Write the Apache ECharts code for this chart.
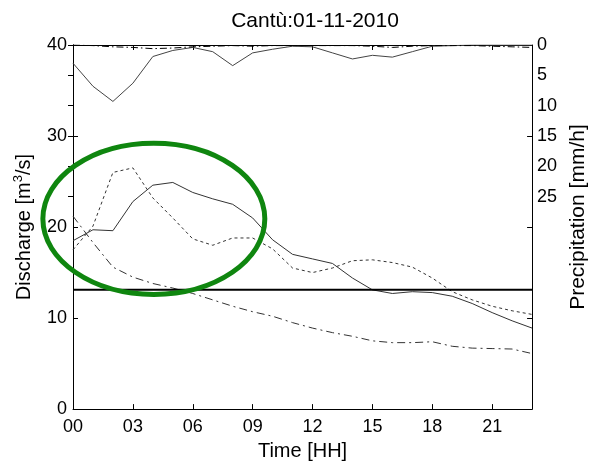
<!DOCTYPE html>
<html>
<head>
<meta charset="utf-8">
<script src="https://cdn.jsdelivr.net/npm/echarts@6/dist/echarts.min.js"></script>
<style>html,body{margin:0;padding:0;background:#fff;}#c{width:597px;height:466px;}</style>
</head>
<body>
<div id="c"></div>
<script>
// ---- data ----
const hours = [0,1,2,3,4,5,6,7,8,9,10,11,12,13,14,15,16,17,18,19,20,21,22,23];
const precipObserved = [3.0,6.8,9.3,6.3,1.9,0.9,0.4,1.1,3.4,1.3,0.7,0.2,0.3,1.3,2.3,1.7,2.0,1.1,0.2,0.1,0.0,0.0,0.0,0.0];
const precipForecast = [0.0,0.1,0.3,0.4,0.6,0.5,0.3,0.2,0.1,0.2,0.1,0.1,0.1,0.1,0.1,0.2,0.4,0.2,0.1,0.1,0.1,0.2,0.3,0.4];
const dischargeObserved = [18.5,19.7,19.6,22.8,24.6,24.9,23.8,23.1,22.5,21.0,18.6,17.0,16.5,16.0,14.4,13.1,12.7,12.9,12.8,12.4,11.6,10.6,9.7,8.9];
const dischargeSimA = [17.5,20.1,26.0,26.5,23.2,21.0,18.7,18.0,18.8,18.8,17.6,15.5,15.0,15.5,16.3,16.4,16.1,15.6,14.4,12.9,12.0,11.3,10.8,10.4];
const dischargeSimB = [21.2,18.3,15.6,14.5,13.8,13.3,12.7,12.0,11.3,10.7,10.2,9.5,8.9,8.4,8.0,7.5,7.3,7.3,7.4,6.9,6.7,6.65,6.6,6.1];
const threshold = 13.1;
const xTicks = ['00','03','06','09','12','15','18','21'];
const leftTicks = [0,10,20,30,40];
const rightTicks = [0,5,10,15,20,25];
// annotation ellipse in data units (hours, m3/s)
const ellipseCenter = [4.05, 20.9];
const ellipseRadius = [5.56, 8.3];

const pair = arr => hours.map((h,i)=>[h, arr[i]]);
const FONT = 'Liberation Sans, Arial, sans-serif';

const chart = echarts.init(document.getElementById('c'), null, {renderer:'canvas'});
const axisCommon = {
  axisLine:{show:true, lineStyle:{color:'#000', width:1}},
  axisTick:{show:true, inside:true, length:5, lineStyle:{color:'#000'}},
  splitLine:{show:false},
};
chart.setOption({
  animation:false,
  backgroundColor:'#fff',
  title:{text:'Cantù:01-11-2010', left:310, top:6, textAlign:'center',
    textStyle:{fontFamily:FONT, fontSize:21, fontWeight:'normal', color:'#000'}},
  grid:{left:73, right:55, top:45, bottom:52, containLabel:false},
  xAxis:[
    Object.assign({type:'value', min:0, max:23, interval:3, position:'bottom',
      name:'Time [HH]', nameLocation:'middle', nameGap:30,
      nameTextStyle:{fontFamily:FONT, fontSize:20, color:'#000'},
      axisLabel:{fontFamily:FONT, fontSize:18, color:'#000', margin:9,
        formatter:v=>xTicks[v/3] !== undefined ? xTicks[v/3] : ''},
      showMaxLabel:false}, axisCommon),
    Object.assign({type:'value', min:0, max:23, interval:3, position:'top',
      axisLabel:{show:false}}, axisCommon)
  ],
  yAxis:[
    Object.assign({type:'value', min:0, max:40, interval:10, position:'left',
      name:'Discharge [m{sup|3}/s]', nameLocation:'middle', nameGap:36,
      nameTextStyle:{fontFamily:FONT, fontSize:20, color:'#000', lineHeight:24,
        rich:{sup:{fontFamily:FONT, fontSize:13, color:'#000', verticalAlign:'top', lineHeight:24}}},
      axisLabel:{fontFamily:FONT, fontSize:18, color:'#000', margin:6,
        formatter:v=>leftTicks.includes(v)?String(v):''}}, axisCommon),
    Object.assign({type:'value', min:0, max:60, interval:5, position:'right', inverse:true,
      name:'Precipitation [mm/h]', nameLocation:'middle', nameGap:32,
      nameTextStyle:{fontFamily:FONT, fontSize:21, color:'#000', padding:[0,0,0,20]},
      axisLabel:{fontFamily:FONT, fontSize:18, color:'#000', margin:5,
        customValues:rightTicks},
    }, axisCommon, {axisTick:{show:true, inside:true, length:5, lineStyle:{color:'#000'}, customValues:rightTicks}}),
    Object.assign({type:'value', min:0, max:40, interval:10, position:'right',
      axisLabel:{show:false}}, axisCommon)
  ],
  series:[
    {type:'line', name:'P obs', xAxisIndex:0, yAxisIndex:1, data:pair(precipObserved), symbol:'none',
      lineStyle:{color:'#444', width:1}},
    {type:'line', name:'P fc', xAxisIndex:0, yAxisIndex:1, data:pair(precipForecast), symbol:'none',
      lineStyle:{color:'#000', width:1, type:[7,3,1.5,3]}},
    {type:'line', name:'Q obs', xAxisIndex:0, yAxisIndex:0, data:pair(dischargeObserved), symbol:'none',
      lineStyle:{color:'#333', width:1}},
    {type:'line', name:'Q sim A', xAxisIndex:0, yAxisIndex:0, data:pair(dischargeSimA), symbol:'none',
      lineStyle:{color:'#333', width:1, type:[3,3]}},
    {type:'line', name:'Q sim B', xAxisIndex:0, yAxisIndex:0, data:pair(dischargeSimB), symbol:'none',
      lineStyle:{color:'#333', width:1, type:[8,4,2,4]}},
    {type:'line', name:'threshold', xAxisIndex:0, yAxisIndex:0, data:[[0,threshold],[23,threshold]], symbol:'none',
      lineStyle:{color:'#000', width:2}}
  ]
});

const c = chart.convertToPixel({xAxisIndex:0, yAxisIndex:0}, ellipseCenter);
const e = chart.convertToPixel({xAxisIndex:0, yAxisIndex:0}, [ellipseCenter[0]+ellipseRadius[0], ellipseCenter[1]+ellipseRadius[1]]);
chart.setOption({graphic:[{type:'ellipse', z:100,
  shape:{cx:c[0], cy:c[1], rx:Math.abs(e[0]-c[0]), ry:Math.abs(e[1]-c[1])},
  style:{fill:'none', stroke:'#0f860f', lineWidth:5}}]});
</script>
</body>
</html>
